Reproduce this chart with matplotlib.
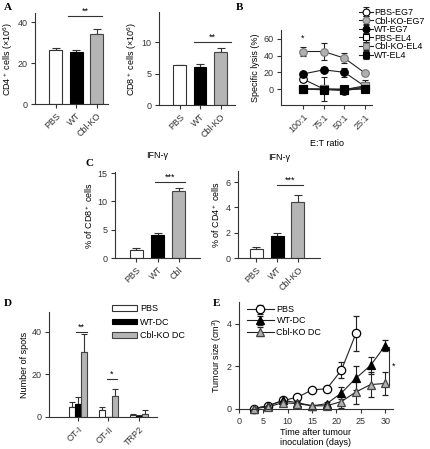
import matplotlib
matplotlib.use('Agg')
import matplotlib.pyplot as plt
import numpy as np

plt.rcParams['font.family'] = ['Liberation Sans', 'DejaVu Sans']
plt.rcParams['mathtext.default'] = 'regular'
plt.rcParams['font.size'] = 6.5
plt.rcParams['axes.linewidth'] = 0.8
plt.rcParams['axes.edgecolor'] = '#333333'
plt.rcParams['xtick.major.size'] = 3
plt.rcParams['ytick.major.size'] = 3
plt.rcParams['xtick.major.width'] = 0.8
plt.rcParams['ytick.major.width'] = 0.8
plt.rcParams['xtick.major.pad'] = 2.5
plt.rcParams['ytick.major.pad'] = 2.5
plt.rcParams['xtick.color'] = '#333333'
plt.rcParams['ytick.color'] = '#333333'

# ---- data ----
# A: cell counts
groups_a = ['PBS', 'WT', 'Cbl-KO']
cd4_mean = [26.5, 25.2, 34.3]
cd4_err = [0.7, 1.2, 2.2]
cd8_mean = [6.3, 6.0, 8.5]
cd8_err = [0.1, 0.6, 0.6]

# B: specific lysis
ratios = ['100:1', '75:1', '50:1', '25:1']
b_labels = ['PBS-EG7', 'Cbl-KO-EG7', 'WT-EG7', 'PBS-EL4', 'Cbl-KO-EL4', 'WT-EL4']
pbs_eg7 = [12, 0, -2, 2]
pbs_eg7_err = [3, 1, 1, 1]
cbl_eg7 = [45, 45, 37, 19]
cbl_eg7_err = [5, 10, 6, 2]
wt_eg7 = [18, 23, 20, 3]
wt_eg7_err = [3, 3, 5, 6]
pbs_el4 = [0, 0, 0, 2]
pbs_el4_err = [1, 1, 1, 1]
cbl_el4 = [0, 0, -1, 4]
cbl_el4_err = [2, 14, 2, 7]
wt_el4 = [0, -1, -1, 0]
wt_el4_err = [2, 2, 1, 2]

# C: IFN-gamma
groups_c1 = ['PBS', 'WT', 'Cbl']
groups_c2 = ['PBS', 'WT', 'Cbl-KO']
ifn_cd8 = [1.5, 4.1, 11.9]
ifn_cd8_err = [0.3, 0.4, 0.5]
ifn_cd4 = [0.75, 1.75, 4.4]
ifn_cd4_err = [0.15, 0.25, 0.6]

# D: ELISPOT
peptides = ['OT-I', 'OT-II', 'TRP2']
d_labels = ['PBS', 'WT-DC', 'Cbl-KO DC']
spots_pbs = [4.5, 3.3, 1.0]
spots_pbs_err = [2.6, 1.2, 0.3]
spots_wt = [6.0, 0.0, 0.5]
spots_wt_err = [3.4, 0.0, 0.4]
spots_cbl = [30.8, 9.8, 1.6]
spots_cbl_err = [8.2, 3.4, 1.6]

# E: tumour growth
days = [3, 6, 9, 12, 15, 18, 21, 24, 27, 30]
e_labels = ['PBS', 'WT-DC', 'Cbl-KO DC']
tum_pbs = [0.02, 0.15, 0.4, 0.55, 0.9, 0.95, 1.82, 3.55]
tum_pbs_err = [0.03, 0.05, 0.08, 0.08, 0.08, 0.08, 0.38, 0.8]
tum_wt = [0.02, 0.15, 0.4, 0.3, 0.15, 0.25, 0.75, 1.45, 2.05, 2.98]
tum_wt_err = [0.03, 0.05, 0.1, 0.08, 0.05, 0.08, 0.3, 0.55, 0.4, 0.25]
tum_cbl = [0.02, 0.1, 0.3, 0.25, 0.15, 0.15, 0.35, 0.8, 1.15, 1.2]
tum_cbl_err = [0.03, 0.05, 0.08, 0.08, 0.05, 0.08, 0.3, 0.55, 0.6, 0.55]

W, H = 430, 449
fig = plt.figure(figsize=(W / 100, H / 100), dpi=100)


def add_ax(l, t, r, b):
    ax = fig.add_axes([l / W, 1 - b / H, (r - l) / W, (b - t) / H])
    ax.spines['top'].set_visible(False)
    ax.spines['right'].set_visible(False)
    return ax


def bar3(ax, means, errs, labels):
    x = np.arange(len(means))
    cols = ['white', 'black', '#b5b5b5']
    edges = ['#333333', 'black', '#444444']
    ax.bar(x, means, width=0.62, color=cols, edgecolor=edges, linewidth=0.8, zorder=2)
    ax.errorbar(x, means, yerr=[np.zeros(len(errs)), errs], fmt='none',
                ecolor='#333333', elinewidth=0.8, capsize=3, capthick=0.8, zorder=1)
    ax.set_xticks(x)
    ax.set_xticklabels(labels, rotation=45, ha='right', rotation_mode='anchor')


def sig(ax, x0, x1, y, txt):
    ax.plot([x0, x1], [y, y], color='#333333', lw=0.8, clip_on=False)
    ax.text((x0 + x1) / 2, y, txt, ha='center', va='bottom', fontsize=6.5)


def panel(x, y, s):
    fig.text(x / W, 1 - y / H, s, fontsize=8, fontweight='bold',
             family=['Liberation Serif', 'DejaVu Serif'], va='center', ha='left')


# ---- A ----
ax = add_ax(35, 13, 108, 104)
bar3(ax, cd4_mean, cd4_err, groups_a)
ax.set_ylim(0, 44.4)
ax.set_xlim(-1.0, 2.55)
ax.set_yticks([0, 20, 40])
ax.set_ylabel('CD4$^+$ cells (×10$^6$)', labelpad=2)
sig(ax, 0.6, 2.25, 42.9, '**')

ax = add_ax(159, 12, 235, 105)
bar3(ax, cd8_mean, cd8_err, groups_a)
ax.set_ylim(0, 14.8)
ax.set_xlim(-1.0, 2.7)
ax.set_yticks([0, 5, 10])
ax.set_ylabel('CD8$^+$ cells (×10$^6$)', labelpad=2)
sig(ax, 0.7, 2.5, 10.0, '**')

# ---- B ----
ax = add_ax(281, 30, 372, 105)
xr = np.arange(len(ratios))
series = [
    (pbs_eg7, pbs_eg7_err, 'o', 'white', 'black'),
    (cbl_eg7, cbl_eg7_err, 'o', '#b0b0b0', '#777777'),
    (wt_eg7, wt_eg7_err, 'o', 'black', 'black'),
    (pbs_el4, pbs_el4_err, 's', 'white', 'black'),
    (cbl_el4, cbl_el4_err, 's', '#b0b0b0', '#777777'),
    (wt_el4, wt_el4_err, 's', 'black', 'black'),
]
for (vals, errs, m, fc, ec), lab in zip(series, b_labels):
    ax.errorbar(xr, vals, yerr=errs, color='#222222', lw=0.8, marker=m, ms=5.5,
                mfc=fc, mec=ec, mew=0.8, capsize=2, elinewidth=0.8, label=lab)
ax.set_xticks(xr)
ax.set_xticklabels(ratios, rotation=45, ha='right', rotation_mode='anchor')
ax.set_xlim(-1.06, 3.33)
ax.set_ylim(-19.2, 70.8)
ax.set_yticks([0, 20, 40, 60])
ax.set_ylabel('Specific lysis (%)', labelpad=2)
ax.set_xlabel('E:T ratio', labelpad=3)
ax.text(0, 56, '*', ha='center', va='bottom')
ax.legend(loc='upper left', bbox_to_anchor=(359 / W, 1 - 8 / H), bbox_transform=fig.transFigure,
          frameon=False, handlelength=1.5, handletextpad=0.2, labelspacing=-0.05,
          borderpad=0, borderaxespad=0, fontsize=6.5, markerscale=0.9)

# ---- C ----
ax = add_ax(115, 172, 200, 258)
bar3(ax, ifn_cd8, ifn_cd8_err, groups_c1)
ax.set_ylim(0, 15.2)
ax.set_xlim(-1.02, 3.02)
ax.set_yticks([0, 5, 10, 15])
ax.set_ylabel('% of CD8$^+$ cells', labelpad=2)
ax.set_title('IFN-γ', fontsize=6.5, pad=10)
sig(ax, 0.88, 2.3, 13.4, '***')

ax = add_ax(238, 171, 320, 258)
bar3(ax, ifn_cd4, ifn_cd4_err, groups_c2)
ax.set_ylim(0, 6.87)
ax.set_xlim(-0.86, 3.05)
ax.set_yticks([0, 2, 4, 6])
ax.set_ylabel('% of CD4$^+$ cells', labelpad=2)
ax.set_title('IFN-γ', fontsize=6.5, pad=8)
sig(ax, 1.0, 2.24, 5.76, '***')

# ---- D ----
ax = add_ax(49, 312, 157, 417)
xp = np.arange(len(peptides))
bw = 0.2
d_series = [(spots_pbs, spots_pbs_err, 'white', '#333333'),
            (spots_wt, spots_wt_err, 'black', 'black'),
            (spots_cbl, spots_cbl_err, '#b5b5b5', '#444444')]
for i, ((vals, errs, fc, ec), lab) in enumerate(zip(d_series, d_labels)):
    xx = xp + (i - 1) * bw
    ax.bar(xx, vals, width=bw, color=fc, edgecolor=ec, linewidth=0.8, label=lab, zorder=2)
    ax.errorbar(xx, vals, yerr=[np.zeros(len(errs)), errs], fmt='none', ecolor='#333333',
                elinewidth=0.8, capsize=2.5, capthick=0.8, zorder=1)
ax.set_xticks(xp)
ax.set_xticklabels(peptides, rotation=45, ha='right', rotation_mode='anchor')
ax.set_xlim(-0.95, 2.59)
ax.set_ylim(0, 49.4)
ax.set_yticks([0, 20, 40])
ax.set_ylabel('Number of spots', labelpad=2)
sig(ax, -0.05, 0.3, 40.1, '**')
sig(ax, 0.95, 1.28, 17.8, '*')
ax.legend(loc='upper left', bbox_to_anchor=(112 / W, 1 - 304 / H), bbox_transform=fig.transFigure,
          frameon=False, handlelength=2.8, handleheight=0.55, handletextpad=0.3,
          labelspacing=0.5, borderpad=0, borderaxespad=0, fontsize=6.5)

# ---- E ----
ax = add_ax(239, 302, 393, 409)
e_series = [(days[:len(tum_pbs)], tum_pbs, tum_pbs_err, 'o', 'white', 'black'),
            (days, tum_wt, tum_wt_err, '^', 'black', 'black'),
            (days, tum_cbl, tum_cbl_err, '^', '#b0b0b0', '#444444')]
for (dd, vals, errs, m, fc, ec), lab in zip(e_series, e_labels):
    ax.errorbar(dd, vals, yerr=errs, color='#222222', lw=0.8, marker=m, ms=6,
                mfc=fc, mec=ec, mew=0.9, capsize=2.5, elinewidth=0.8, label=lab,
                clip_on=False)
ax.set_xlim(0, 31.6)
ax.set_ylim(0, 5.03)
ax.set_xticks([0, 5, 10, 15, 20, 25, 30])
ax.set_yticks([0, 2, 4])
ax.set_ylabel('Tumour size (cm$^3$)', labelpad=2)
ax.set_xlabel('Time after tumour\ninoculation (days)', labelpad=2, linespacing=1.1)
ax.plot([29.7, 30.7, 30.7, 29.7], [2.92, 2.92, 1.08, 1.08], color='#333333', lw=0.8, clip_on=False)
ax.text(31.3, 2.0, '*', ha='left', va='center')
ax.legend(loc='upper left', bbox_to_anchor=(0.05, 0.97), frameon=False, handlelength=3,
          handletextpad=0.3, labelspacing=0.25, borderpad=0, borderaxespad=0, fontsize=6.5)

panel(4, 7, 'A')
panel(236, 7, 'B')
panel(85, 163, 'C')
panel(4, 303, 'D')
panel(213, 303, 'E')

fig.savefig('out.png', dpi=100)
